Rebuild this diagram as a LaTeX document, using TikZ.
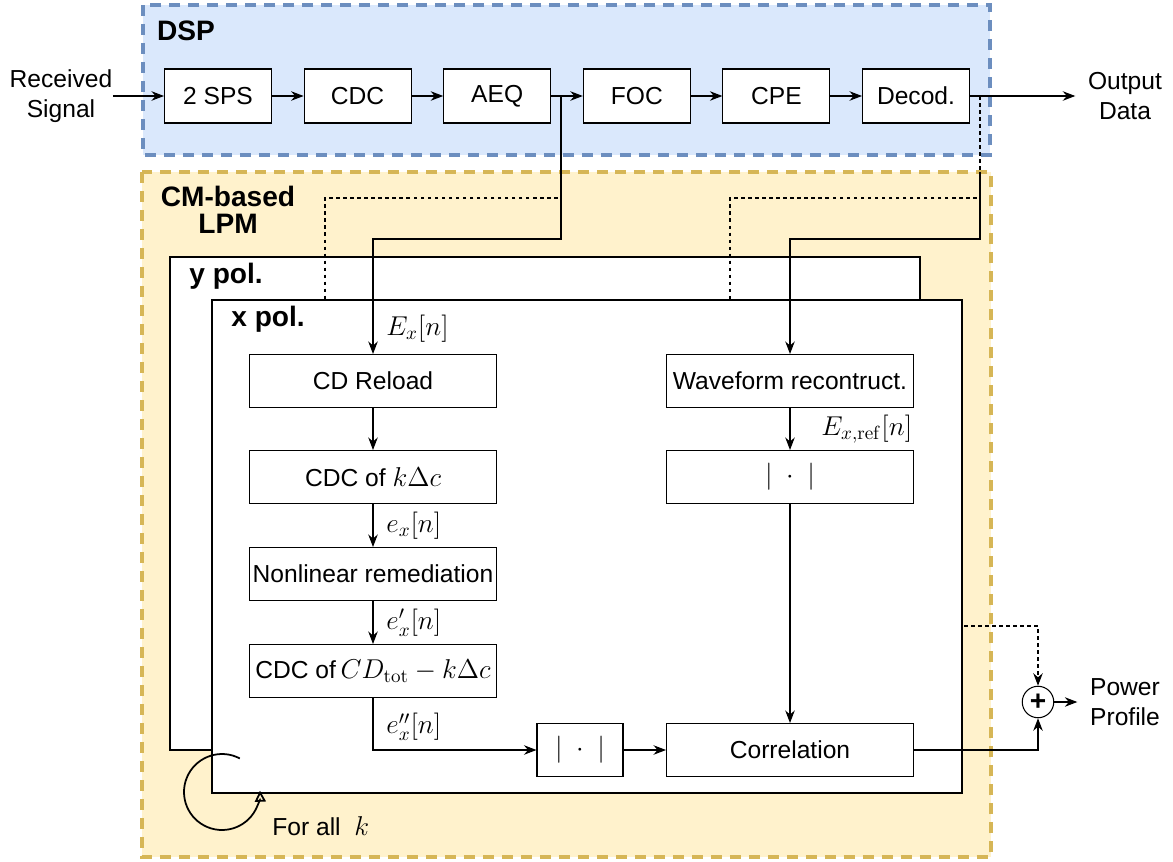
\documentclass[tikz,border=0pt]{standalone}
\usepackage{fix-cm}
\usepackage[no-math]{fontspec}
\setmainfont{Liberation Sans}
\usetikzlibrary{arrows.meta,positioning}
\definecolor{dspfill}{HTML}{DAE8FC}
\definecolor{dspline}{HTML}{6C8EBF}
\definecolor{lpmfill}{HTML}{FFF2CC}
\definecolor{lpmline}{HTML}{D6B656}
\newcommand{\mth}[1]{{\fontsize{15.5}{17}\selectfont$#1$}}
\tikzset{font=\fontsize{14}{17}\selectfont}
\tikzstyle{blk}=[draw,fill=white,line width=0.6pt,inner sep=1pt,minimum height=1.06cm]
\tikzstyle{dblk}=[blk,minimum width=2.14cm,minimum height=1.08cm]
\tikzstyle{wblk}=[blk,minimum width=4.94cm]
\tikzstyle{grp}=[line width=2.2pt,dash pattern=on 0.22cm off 0.16cm]
\tikzstyle{polbox}=[draw,fill=white,line width=0.6pt]
\tikzstyle{ttl}=[font=\fontsize{16}{15.5}\selectfont\bfseries,align=center]
\tikzstyle{txt}=[align=center,inner ysep=1pt]
\tikzstyle{lbl}=[right,xshift=4pt]
\tikzstyle{dotline}=[line width=0.6pt,dash pattern=on 2pt off 2pt]

\begin{document}
\begin{tikzpicture}[x=0.02cm,y=-0.02cm,>={Stealth[length=2.5mm,width=1.9mm]},line width=0.6pt]
\useasboundingbox (0,0) rectangle (1173,862);
\draw[grp,draw=dspline,fill=dspfill] (143,5) rectangle (990,155);
\draw[grp,draw=lpmline,fill=lpmfill] (142,172) rectangle (991,857);
\node[ttl] (dsp) at (186,31) {DSP};
\node[ttl] (lpm) at (228,210) {CM-based\\LPM};
\draw[polbox] (170,257) rectangle (920,750);
\node[ttl,anchor=west] (ypol) at (183,276) {y pol.};

\coordinate (aeqb) at (561,96);
\coordinate (decb) at (980,96);
\coordinate (lvl) at (0,239);
\coordinate (cmtop) at (0,172);
\coordinate (xr) at (964,626);
\coordinate (lp) at (222,792);

\draw[dotline] (aeqb) |- (325,198) |- (340,300);
\draw[dotline] (decb) |- (730,198) |- (745,300);
\draw[polbox] (212,300) rectangle (962,793);
\node[ttl,anchor=west] (xpol) at (225,319) {x pol.};

\node[txt,inner xsep=0pt] (rcv) at (61,96) {Received\\Signal};
\node[dblk] (sps) at (218,96) {2 SPS};
\node[dblk] (cdc) at (357.6,96) {CDC};
\node[dblk] (aeq) at (497.2,96) {AEQ};
\node[dblk] (foc) at (636.8,96) {FOC};
\node[dblk] (cpe) at (776.4,96) {CPE};
\node[dblk] (dec) at (916,96) {Decod.};
\node[txt,inner xsep=7pt] (out) at (1125,96) {Output\\Data};

\node[wblk] (reload) at (373,381) {CD Reload};
\node[wblk] (cdck) at (373,477) {CDC of \mth{k\Delta c}};
\node[wblk] (nlr) at (373,574) {Nonlinear remediation};
\node[wblk] (cdctot) at (373,671) {CDC of\mth{\,CD_{\mathrm{tot}}-k\Delta c}};
\node[wblk] (wave) at (790,381) {Waveform recontruct.};
\node[wblk] (absr) at (790,477) {\mth{|\;\cdot\;|}};
\node[blk,minimum width=1.72cm] (absa) at (580,750) {\mth{|\;\cdot\;|}};
\node[wblk] (corr) at (790,750) {Correlation};
\node[circle,draw,fill=white,minimum size=0.63cm,inner sep=0pt,font=\fontsize{16}{16}\selectfont\bfseries] (sum) at (1038,702) {+};
\node[txt,inner xsep=7pt] (pow) at (1125,702) {Power\\Profile};
\node[anchor=west] (fork) at (266,826) {For all \ \mth{k}};

\path[->]
(rcv) edge (sps)
(sps) edge (cdc)
(cdc) edge (aeq)
(aeq) edge (foc)
(foc) edge (cpe)
(cpe) edge (dec)
(dec) edge (out)
(reload) edge (cdck)
(cdck) edge node [lbl] {\mth{e_x[n]}} (nlr)
(nlr) edge node [lbl] {\mth{e'_x[n]}} (cdctot)
(wave) edge node [right=0.5cm] {\mth{E_{x,\mathrm{ref}}[n]}} (absr)
(absr) edge (corr)
(absa) edge (corr)
(sum) edge (pow);
\draw[->] (aeqb) |- (reload.north |- lvl) -- node[pos=0.78,lbl] {\mth{E_x[n]}} (reload);
\draw[->] (decb |- cmtop) |- (wave.north |- lvl) -- (wave);
\draw[->] (cdctot) |- node[pos=0.28,lbl] {\mth{e''_x[n]}} (absa);
\draw[->] (corr) -| (sum);
\draw[dotline,->] (xr) -| (sum);
\draw[line width=1pt,-{Triangle[open,length=2.2mm,width=2.2mm]}] ([shift={(62:0.76cm)}]lp) arc[start angle=62,end angle=362,radius=0.76cm];
\end{tikzpicture}
\end{document}
